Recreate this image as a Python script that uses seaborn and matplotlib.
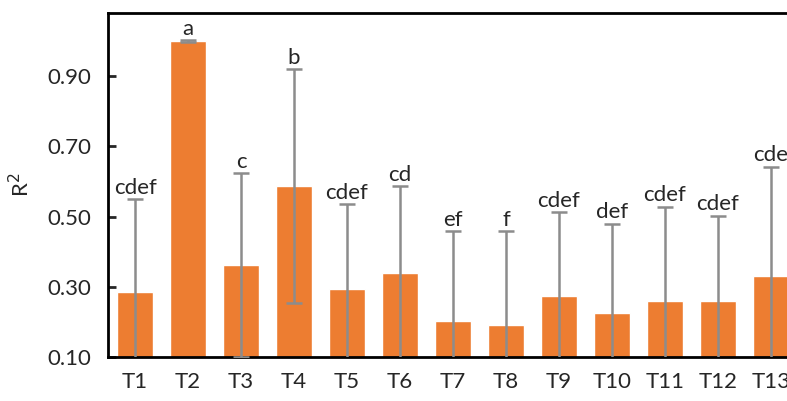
import matplotlib
matplotlib.use("Agg")
import matplotlib.pyplot as plt
import pandas as pd
import seaborn as sns

# ── data ───────────────────────────────────────────────────────────────
treatments = ["T1", "T2", "T3", "T4", "T5", "T6", "T7",
              "T8", "T9", "T10", "T11", "T12", "T13"]
r2_mean = [0.285, 1.000, 0.362, 0.587, 0.294, 0.339, 0.203,
           0.191, 0.274, 0.225, 0.259, 0.259, 0.331]
r2_err = [0.265, 0.002, 0.262, 0.333, 0.242, 0.248, 0.256,
          0.268, 0.238, 0.255, 0.269, 0.244, 0.311]
letters = ["cdef", "a", "c", "b", "cdef", "cd", "ef",
           "f", "cdef", "def", "cdef", "cdef", "cde"]

df = pd.DataFrame({"treatment": treatments, "r2": r2_mean, "err": r2_err})

# ── style ──────────────────────────────────────────────────────────────
sns.set_style("white")
plt.rcParams["font.family"] = ["Lato", "DejaVu Sans"]
text_col = "#262626"

fig = plt.figure(figsize=(7.87, 4.01), dpi=100)
ax = fig.add_axes([0.1372, 0.1097, 0.876, 0.858])

sns.barplot(data=df, x="treatment", y="r2", color="#ED7D31",
            saturation=1, width=0.68, errorbar=None, ax=ax)

xs = range(len(df))
ax.errorbar(xs, df["r2"], yerr=df["err"], fmt="none",
            ecolor="#8c8c8c", elinewidth=1.8, capsize=5.5, capthick=1.8,
            clip_on=True, zorder=3)

for x, m, e, lab in zip(xs, df["r2"], df["err"], letters):
    ax.text(x, m + e + 0.004, lab, ha="center", va="bottom",
            fontsize=16, color=text_col, clip_on=False)

ax.set_xlim(-0.51, 12.5)
ax.set_ylim(0.10, 1.08)
ax.set_yticks([0.10, 0.30, 0.50, 0.70, 0.90])
ax.set_yticklabels([f"{v:.2f}" for v in [0.10, 0.30, 0.50, 0.70, 0.90]])
ax.set_xlabel("")
ax.set_ylabel("R$^2$", fontsize=16, color=text_col, labelpad=10)

ax.tick_params(axis="y", direction="in", length=6, width=2,
               labelsize=16, labelcolor=text_col, pad=12, left=True)
ax.tick_params(axis="x", length=0, labelsize=16, labelcolor=text_col, pad=11)

for side in ["left", "top", "bottom", "right"]:
    ax.spines[side].set_color("black")
    ax.spines[side].set_linewidth(2)

fig.savefig("out.png", dpi=100)
